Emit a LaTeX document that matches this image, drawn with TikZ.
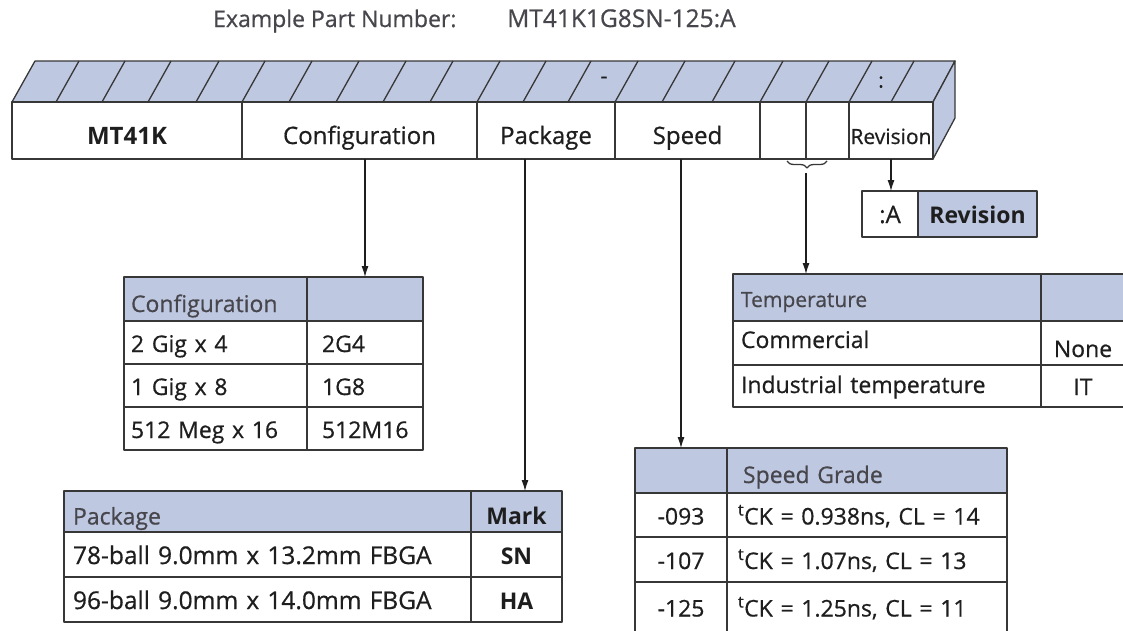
\documentclass[tikz,border=0pt]{standalone}
\usepackage{fontspec}
\setmainfont{Open Sans}[UprightFeatures={FakeBold=0.6}]
\usepackage{tikz}
\usetikzlibrary{positioning, arrows.meta, decorations.pathreplacing}
\definecolor{partblue}{RGB}{191,200,225}
\definecolor{linegray}{RGB}{55,55,55}
\definecolor{textdark}{RGB}{30,30,30}
\definecolor{texthead}{RGB}{70,70,76}
\newcommand{\partbarfont}{\fontsize{24}{28}\selectfont}
\newcommand{\parttabfont}{\fontsize{23}{27}\selectfont}
\newcommand{\partsmallfont}{\fontsize{21}{25}\selectfont}
\tikzstyle{edge} = [draw=linegray, line width=1.3pt, line join=round]
\tikzstyle{face} = [edge, fill=partblue]
\tikzstyle{barcell} = [rectangle, edge, fill=white, minimum height=57pt, inner sep=0pt, outer sep=0pt, text height=27pt, text depth=0pt, text=textdark, font=\partbarfont]
\tikzstyle{cell} = [rectangle, edge, fill=white, inner ysep=0pt, outer sep=0pt, text height=19pt, text depth=0pt, text=textdark, font=\parttabfont]
\tikzstyle{hdr} = [cell, fill=partblue, text height=26pt, text=texthead]
\tikzstyle{arrow} = [draw=textdark, line width=1.1pt, -{Latex[length=11pt,width=7pt]}]
\tikzstyle{cfgl} = [minimum width=183pt, text width=169pt, inner xsep=7pt, align=left]
\tikzstyle{cfgr} = [minimum width=116pt, text width=86pt, inner xsep=15pt, align=left]
\tikzstyle{pkgl} = [minimum width=407pt, text width=389pt, inner xsep=9pt, align=left]
\tikzstyle{pkgr} = [minimum width=91pt, text width=91pt, inner xsep=0pt, align=center]
\tikzstyle{spdl} = [minimum width=92pt, text width=92pt, inner xsep=0pt, align=center]
\tikzstyle{spdr} = [minimum width=280pt, text width=258pt, inner xsep=11pt, align=left]
\tikzstyle{spdrh} = [minimum width=280pt, text width=248pt, inner xsep=16pt, align=left]
\tikzstyle{tmpl} = [minimum width=308pt, text width=292pt, inner xsep=8pt, align=left]
\tikzstyle{tmpr} = [minimum width=84pt, text width=84pt, inner xsep=0pt, align=center]

\begin{document}
\begin{tikzpicture}[x=1pt, y=-1pt, node distance=0pt]
\path [use as bounding box, clip] (0,0) rectangle (1123,630);

\node (exlabel) [anchor=base west, inner sep=0pt, text=texthead, font=\parttabfont] at (213,27) {Example Part Number:};
\node (exnum) [anchor=base west, inner sep=0pt, text=texthead, font=\fontsize{24.5}{28}\selectfont] at (507,27) {MT41K1G8SN-125:A};

\filldraw [face] (12,102) -- (35,61) -- (955,61) -- (933,102) -- cycle;
\filldraw [face] (933,102) -- (955,61) -- (955,118) -- (933,159) -- cycle;
\foreach \x in {56,102,148,196,242,289,336,383,430,477,523,568,615,662,712,760,806,849,891}
  \draw [edge] (\x,102) -- ++(23,-41);
\node (dash) [text=textdark, font=\partsmallfont] at (604,80) {-};
\node (colon) [text=textdark, font=\partsmallfont] at (881,82) {:};

\node (mt) [barcell, minimum width=230pt, font=\partbarfont\bfseries] at (127,130.5) {MT41K};
\node (conf) [barcell, minimum width=235pt, right=0pt of mt] {Configuration};
\node (pkg) [barcell, minimum width=138pt, right=0pt of conf] {Package};
\node (spd) [barcell, minimum width=145pt, right=0pt of pkg] {Speed};
\node (blka) [barcell, minimum width=46pt, right=0pt of spd] {};
\node (blkb) [barcell, minimum width=43pt, right=0pt of blka] {};
\node (rev) [barcell, minimum width=84pt, font=\partsmallfont, right=0pt of blkb] {Revision};

\draw [edge, decorate, decoration={brace, mirror, amplitude=7pt}] (787,161) -- (827,161);
\coordinate (tempdrop) at (806,173);
\coordinate (pkgdrop) at (525,159);

\node (revval) [cell, minimum width=56pt, minimum height=46pt, inner xsep=0pt, text height=18pt, font=\partbarfont] at (890,214) {:A};
\node (revname) [hdr, minimum width=119pt, minimum height=46pt, inner xsep=0pt, text height=18pt, text=textdark, font=\parttabfont\bfseries, right=0pt of revval] {Revision};

\node (cfgh1) [hdr, cfgl, minimum height=44pt] at (215.5,299) {Configuration};
\node (cfgh2) [hdr, cfgr, minimum height=44pt, right=0pt of cfgh1] {};
\node (cfg1a) [cell, cfgl, minimum height=43pt, below=0pt of cfgh1] {2 Gig x 4};
\node (cfg1b) [cell, cfgr, minimum height=43pt, right=0pt of cfg1a] {2G4};
\node (cfg2a) [cell, cfgl, minimum height=43pt, below=0pt of cfg1a] {1 Gig x 8};
\node (cfg2b) [cell, cfgr, minimum height=43pt, right=0pt of cfg2a] {1G8};
\node (cfg3a) [cell, cfgl, minimum height=43pt, below=0pt of cfg2a] {512 Meg x 16};
\node (cfg3b) [cell, cfgr, minimum height=43pt, right=0pt of cfg3a] {512M16};

\node (pkgh1) [hdr, pkgl, minimum height=41pt] at (267.5,511.5) {Package};
\node (pkgh2) [hdr, pkgr, minimum height=41pt, text=textdark, font=\parttabfont\bfseries, right=0pt of pkgh1] {Mark};
\node (pkg1a) [cell, pkgl, minimum height=45pt, font=\fontsize{24.5}{28}\selectfont, below=0pt of pkgh1] {78-ball 9.0mm x 13.2mm FBGA};
\node (pkg1b) [cell, pkgr, minimum height=45pt, font=\parttabfont\bfseries, right=0pt of pkg1a] {SN};
\node (pkg2a) [cell, pkgl, minimum height=45pt, font=\fontsize{24.5}{28}\selectfont, below=0pt of pkg1a] {96-ball 9.0mm x 14.0mm FBGA};
\node (pkg2b) [cell, pkgr, minimum height=45pt, font=\parttabfont\bfseries, right=0pt of pkg2a] {HA};

\node (spdh1) [hdr, spdl, minimum height=45pt] at (681,470.5) {};
\node (spdh2) [hdr, spdrh, minimum height=45pt, text height=25pt, right=0pt of spdh1] {Speed Grade};
\node (spd1a) [cell, spdl, minimum height=44pt, below=0pt of spdh1] {-093};
\node (spd1b) [cell, spdr, minimum height=44pt, right=0pt of spd1a] {\textsuperscript{t}CK = 0.938ns, CL = 14};
\node (spd2a) [cell, spdl, minimum height=45pt, below=0pt of spd1a] {-107};
\node (spd2b) [cell, spdr, minimum height=45pt, right=0pt of spd2a] {\textsuperscript{t}CK = 1.07ns, CL = 13};
\node (spd3a) [cell, spdl, minimum height=50pt, below=0pt of spd2a] {-125};
\node (spd3b) [cell, spdr, minimum height=50pt, right=0pt of spd3a] {\textsuperscript{t}CK = 1.25ns, CL = 11};

\node (tmph1) [hdr, tmpl, minimum height=47pt, text height=19pt, font=\partsmallfont] at (887,297.5) {Temperature};
\node (tmph2) [hdr, tmpr, minimum height=47pt, right=0pt of tmph1] {};
\node (tmp1a) [cell, tmpl, minimum height=44pt, text height=10pt, below=0pt of tmph1] {Commercial};
\node (tmp1b) [cell, tmpr, minimum height=44pt, text height=28pt, right=0pt of tmp1a] {None};
\node (tmp2a) [cell, tmpl, minimum height=42pt, text height=14pt, below=0pt of tmp1a] {Industrial temperature};
\node (tmp2b) [cell, tmpr, minimum height=42pt, text height=18pt, right=0pt of tmp2a] {IT};

\draw [arrow] (conf.south -| cfgh2) -- (cfgh2.north);
\draw [arrow] (pkgdrop) -- (pkgdrop |- pkgh2.north);
\draw [arrow] (spd.south -| spdh1) -- (spdh1.north);
\draw [arrow] (tempdrop) -- (tempdrop |- tmph1.north);
\draw [arrow] (rev.south) -- (rev.south |- revval.north);
\end{tikzpicture}
\end{document}
